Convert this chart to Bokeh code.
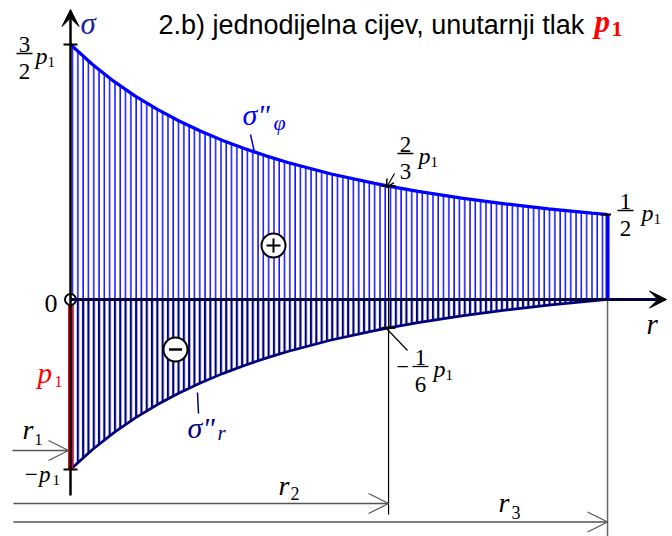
import numpy as np
from bokeh.plotting import figure
from bokeh.models import Range1d, Arrow, VeeHead, OpenHead
from bokeh.core.properties import value
from bokeh.embed import file_html
from bokeh.resources import INLINE

# ---- data (in units of r1 and p1) ----
r_vals = [1.0, 1.05, 1.1, 1.15, 1.2, 1.25, 1.3, 1.35, 1.4, 1.45, 1.5, 1.6, 1.7, 1.732,
          1.8, 1.9, 2.0, 2.1, 2.2, 2.236]
sigma_phi = [1.5, 1.384, 1.283, 1.195, 1.118, 1.05, 0.990, 0.936, 0.888, 0.845, 0.806,
             0.738, 0.683, 0.667, 0.636, 0.596, 0.5625, 0.533, 0.508, 0.5]
sigma_r = [-1.0, -0.884, -0.783, -0.695, -0.618, -0.55, -0.490, -0.436, -0.388, -0.345,
           -0.306, -0.238, -0.183, -0.167, -0.136, -0.096, -0.0625, -0.033, -0.008, 0.0]
radii = [1.0, 1.732, 2.236]            # r1, r2, r3
phi_marks = [1.5, 0.667, 0.5]          # sigma_phi at r1, r2, r3
r_marks = [-1.0, -0.1667]              # sigma_r at r1, r2

r1, r2, r3 = radii

W, H = 672, 536
# ---- pixel helpers for annotations (pixel = position in the picture) ----
SX = 434.5
SY = 170.0
X0 = r1 - 70 / SX
def X(px):
    return X0 + px / SX
def Y(py):
    return (299 - py) / SY

SERIF = "Liberation Serif"
SANS = "Liberation Sans"
BLUE = "#0000ff"
NAVY = "#00007a"

p = figure(width=W, height=H, output_backend="svg", toolbar_location=None,
           x_range=Range1d(X(0), X(W)), y_range=Range1d(Y(H), Y(0)),
           min_border=0, x_axis_location=None, y_axis_location=None)
p.grid.visible = False
p.outline_line_color = None
p.background_fill_color = "white"
p.border_fill_color = "white"

# hatched areas
p.varea(x=r_vals, y1=[0] * len(r_vals), y2=sigma_phi, fill_alpha=0,
        hatch_pattern="|", hatch_color=BLUE, hatch_scale=5.3, hatch_weight=1.4)
p.varea(x=r_vals, y1=sigma_r, y2=[0] * len(r_vals), fill_alpha=0,
        hatch_pattern="|", hatch_color=NAVY, hatch_scale=5.3, hatch_weight=2.2)

# curves
p.line(r_vals, sigma_phi, line_color=BLUE, line_width=3.2)
p.line(r_vals, sigma_r, line_color=NAVY, line_width=2.7)
p.segment(x0=[r3], y0=[0], x1=[r3], y1=[phi_marks[2]], line_color=BLUE, line_width=4)

# vertical construction lines
p.segment(x0=[r2], y0=[phi_marks[1]], x1=[r2], y1=[Y(514)], line_color="black", line_width=1.2)
p.segment(x0=[r3], y0=[0], x1=[r3], y1=[Y(540)], line_color="#666666", line_width=1.5)

# axes
p.add_layout(Arrow(x_start=r1, y_start=Y(495), x_end=r1, y_end=Y(9),
                   line_color="black", line_width=2.5,
                   end=VeeHead(size=17, fill_color="black", line_color="black")))
p.add_layout(Arrow(x_start=r1, y_start=0, x_end=X(666), y_end=0,
                   line_color="#000040", line_width=3,
                   end=VeeHead(size=17, fill_color="black", line_color="black")))

# red pressure line
p.segment(x0=[r1], y0=[0], x1=[r1], y1=[r_marks[0]], line_color="#ff0000", line_width=5)

# ticks
tw = 7 / SX
p.segment(x0=[r1 - tw, r1 - tw, r2 - tw, r2 - tw, r3 - tw],
          y0=[phi_marks[0], r_marks[0], phi_marks[1], r_marks[1], phi_marks[2]],
          x1=[r1 + tw, r1 + tw, r2 + tw, r2 + tw, r3 + tw / 2],
          y1=[phi_marks[0], r_marks[0], phi_marks[1], r_marks[1], phi_marks[2]],
          line_color="black", line_width=2)

# dimension arrows
for ypx, xend in [(503, r2), (521.5, r3)]:
    p.add_layout(Arrow(x_start=X(13), y_start=Y(ypx), x_end=xend, y_end=Y(ypx),
                       line_color="#555555", line_width=1.5,
                       end=OpenHead(size=20, line_color="#555555", line_width=1.2)))
p.add_layout(Arrow(x_start=X(12), y_start=Y(450), x_end=X(68), y_end=Y(450),
                   line_color="#555555", line_width=1.5,
                   end=OpenHead(size=20, line_color="#555555", line_width=1.2)))

# leaders
p.add_layout(Arrow(x_start=X(394), y_start=Y(173), x_end=X(386), y_end=Y(187),
                   line_color="black", line_width=1.2,
                   end=OpenHead(size=8, line_color="black", line_width=1.5)))
p.segment(x0=[X(407)], y0=[Y(350)], x1=[X(386)], y1=[Y(328)], line_color="black", line_width=1.2)
p.segment(x0=[X(254)], y0=[Y(152)], x1=[X(250)], y1=[Y(134)], line_color=BLUE, line_width=1.5)
p.segment(x0=[X(197)], y0=[Y(392)], x1=[X(198)], y1=[Y(413)], line_color=NAVY, line_width=1.5)

# sign circles
p.scatter(x=[X(273), X(175)], y=[Y(245), Y(349)], marker="circle", size=24,
          fill_color="white", line_color="black", line_width=2)
p.scatter(x=[X(273)], y=[Y(245)], marker="cross", size=14, line_color="black", line_width=2)
p.scatter(x=[X(175)], y=[Y(349)], marker="dash", size=13, line_color="black", line_width=2.5)

# origin circle
p.scatter(x=[r1], y=[0], marker="circle", size=11, fill_color="white",
          line_color="black", line_width=2)

K = 0.28  # baseline correction observed in svg text rendering


def txt(px, py, s, size, color="black", style="normal", font=SERIF, align="left"):
    p.text(x=[X(px)], y=[Y(py - K * size)], text=[s], text_font=value(font),
           text_font_size=f"{size}px", text_color=color, text_font_style=style,
           text_align=align, text_baseline="alphabetic")


def frac(cx, bar_y, num, den, px_p, minus_x=None):
    txt(cx, bar_y - 3, num, 23, align="center")
    txt(cx, bar_y + 24, den, 23, align="center")
    p.segment(x0=[X(cx - 8)], y0=[Y(bar_y)], x1=[X(cx + 8)], y1=[Y(bar_y)],
              line_color="black", line_width=1.3)
    txt(px_p, bar_y + 9, "p", 24, style="italic")
    txt(px_p + 12, bar_y + 13, "1", 15)
    if minus_x is not None:
        txt(minus_x, bar_y + 7, "\u2212", 22)


# title
txt(158, 32, "2.b) jednodijelna cijev, unutarnji tlak", 27, font=SANS)
txt(594, 30, "p", 31, color="#ff0000", style="bold italic")
txt(611, 35, "1", 22, color="#ff0000", style="bold")

# axis labels
txt(80, 32, "\u03c3", 31, color="#1e1ea0", style="italic")
txt(646, 332, "r", 29, style="italic")
txt(44, 310, "0", 26)

# fractions
frac(24, 53, "3", "2", 35)
frac(405, 153, "2", "3", 418)
frac(625, 210, "1", "2", 641)
frac(420, 366, "1", "6", 433, minus_x=396)

# sigma labels
txt(242, 122, "\u03c3\"", 30, color=BLUE, style="italic")
txt(273, 128, "\u03c6", 22, color=BLUE, style="italic")
txt(187, 435, "\u03c3\"", 30, color=NAVY, style="italic")
txt(217, 438, "r", 21, color=NAVY, style="italic")

# left labels
txt(37, 381, "p", 29, color="#ff0000", style="italic")
txt(54, 385, "1", 16, color="#ff0000")
txt(22, 437, "r", 28, style="italic")
txt(34, 443, "1", 16)
txt(23, 480, "\u2212p", 23, style="italic")
txt(52, 484, "1", 15)

# radii labels
txt(278, 493, "r", 28, style="italic")
txt(290, 498, "2", 18)
txt(498, 510, "r", 28, style="italic")
txt(511, 517, "3", 18)

open("out.html", "w").write(file_html(p, INLINE))
